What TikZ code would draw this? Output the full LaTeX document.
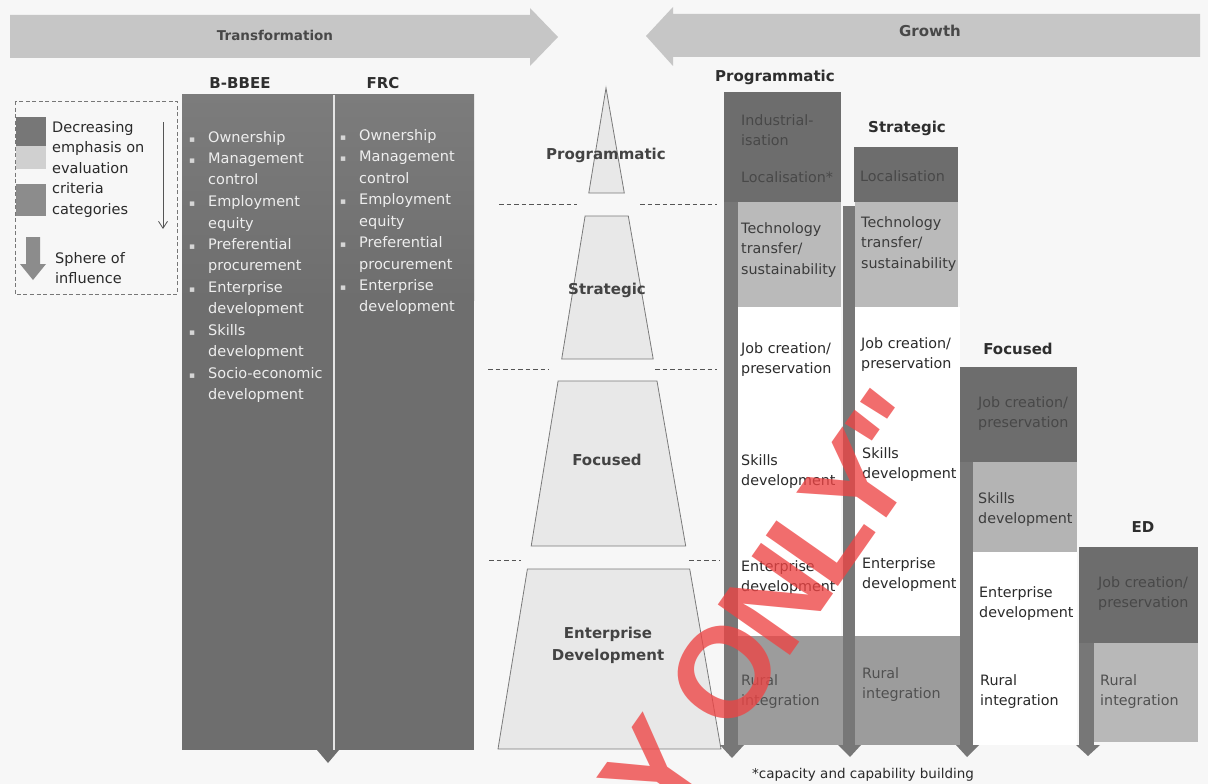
\documentclass[tikz,border=0pt]{standalone}
\usepackage{fontspec}
\setmainfont{DejaVu Sans}
\newfontfamily\wmfont[LetterSpace=-6]{Liberation Sans}
\usetikzlibrary{arrows.meta}
\definecolor{bg}{HTML}{F7F7F7}
\definecolor{bigdark}{HTML}{6E6E6E}
\definecolor{bigtop}{HTML}{7C7C7C}
\definecolor{listtxt}{HTML}{EEEEEE}
\definecolor{bulgray}{HTML}{D6D6D6}
\definecolor{coldark}{HTML}{6D6D6D}
\definecolor{shaft}{HTML}{777777}
\definecolor{lightbox}{HTML}{BABABA}
\definecolor{midbox}{HTML}{9C9C9C}
\definecolor{foclight}{HTML}{B4B4B4}
\definecolor{edlight}{HTML}{B8B8B8}
\definecolor{pyrfill}{HTML}{E8E8E8}
\definecolor{pyrdraw}{HTML}{7A7A7A}
\definecolor{toparrow}{HTML}{C6C6C6}
\definecolor{hdrtxt}{HTML}{2E2E2E}
\definecolor{darktxt}{HTML}{484848}
\definecolor{lighttxt}{HTML}{3C3C3C}
\definecolor{whitetxt}{HTML}{2A2A2A}
\definecolor{midtxt}{HTML}{505050}
\definecolor{legdark}{HTML}{777777}
\definecolor{leglight}{HTML}{D0D0D0}
\definecolor{legmid}{HTML}{8C8C8C}
\definecolor{dashgray}{HTML}{555555}
\definecolor{wmred}{HTML}{EE4444}
\newcommand{\mlines}[1]{\begin{tabular}[t]{@{}l@{}}#1\end{tabular}}
\newcommand{\bul}{\makebox[19pt][l]{\color{bulgray}\fontsize{9}{9}\selectfont ▪}}
\newcommand{\nob}{\hspace*{19pt}}
\tikzset{
  hdr/.style={font=\bfseries\fontsize{15}{18}\selectfont, text=hdrtxt, inner sep=0},
  pyrlbl/.style={font=\bfseries\fontsize{15}{22}\selectfont, text=hdrtxt!90!white, inner sep=0, align=center},
  lst/.style={anchor=base west, inner sep=0, font=\fontsize{14.5}{21.5}\selectfont, text=listtxt},
  leg/.style={anchor=base west, inner sep=0, font=\fontsize{14.5}{20.5}\selectfont, text=whitetxt},
  lbl/.style={anchor=base west, inner sep=0, font=\fontsize{14.3}{20.5}\selectfont},
  pyr/.style={fill=pyrfill, draw=pyrdraw, line width=0.8pt},
  sep/.style={draw=dashgray, line width=0.9pt, dash pattern=on 4.5pt off 3pt},
  wm/.style={font=\wmfont\bfseries\fontsize{128}{128}\selectfont, text=wmred, text opacity=0.78, inner sep=0},
}
\begin{document}
\begin{tikzpicture}[x=1pt,y=-1pt]
\useasboundingbox (0,0) rectangle (1208,784);
\fill[bg] (0,0) rectangle (1208,784);

% top arrows
\fill[toparrow] (10,15) -- (530,15) -- (530,8) -- (558,37) -- (530,66) -- (530,58) -- (10,58) -- cycle;
\fill[toparrow] (1200,14) -- (673,14) -- (673,7) -- (646,36) -- (673,66) -- (673,57) -- (1200,57) -- cycle;
\node[font=\bfseries\fontsize{13.5}{16}\selectfont, text=darktxt, inner sep=0] (ttrans) at (275,35) {Transformation};
\node[font=\bfseries\fontsize{15}{18}\selectfont, text=darktxt, inner sep=0] (tgrowth) at (930,31) {Growth};

% legend
\draw[dashgray!80!white, line width=0.8pt, dash pattern=on 4pt off 2.5pt] (15,101) rectangle (177,294);
\fill[legdark] (16,117) rectangle (46,146);
\fill[leglight] (16,146) rectangle (46,169);
\fill[legmid] (16,184) rectangle (46,216);
\node[leg] (legtext) at (52,132) {\mlines{Decreasing\\ emphasis on\\ evaluation\\ criteria\\ categories}};
\coordinate (la1) at (163,122);
\coordinate (la2) at (163,229);
\draw[dashgray, line width=0.8pt, -{Straight Barb[length=7pt,width=9pt]}] (la1) -- (la2);
\fill[legmid] (26,237) -- (40,237) -- (40,264) -- (46,264) -- (33,280) -- (20,264) -- (26,264) -- cycle;
\node[leg] (sphere) at (55,263) {\mlines{Sphere of\\ influence}};

% B-BBEE / FRC block
\fill[bigdark] (182,95) rectangle (474,750);
\shade[top color=bigtop, bottom color=bigdark] (182,95) rectangle (474,300);
\fill[bigdark] (317,750) -- (339,750) -- (328,763) -- cycle;
\draw[white!80!gray, line width=1.3pt] (334,95) -- (334,750);
\node[hdr] (hbb) at (240,83) {B-BBEE};
\node[hdr] (hfrc) at (383,83) {FRC};
\node[lst] (bblist) at (189,142) {\mlines{\bul Ownership\\ \bul Management\\ \nob control\\ \bul Employment\\ \nob equity\\ \bul Preferential\\ \nob procurement\\ \bul Enterprise\\ \nob development\\ \bul Skills\\ \nob development\\ \bul Socio-economic\\ \nob development}};
\node[lst] (frclist) at (340,140) {\mlines{\bul Ownership\\ \bul Management\\ \nob control\\ \bul Employment\\ \nob equity\\ \bul Preferential\\ \nob procurement\\ \bul Enterprise\\ \nob development}};

% pyramid
\draw[pyr] (606,88) -- (624.3,193) -- (588.8,193) -- cycle;
\draw[pyr] (585.1,216) -- (628.3,216) -- (653.2,359) -- (561.7,359) -- cycle;
\draw[pyr] (558.1,381) -- (657.0,381) -- (685.7,546) -- (531.2,546) -- cycle;
\draw[pyr] (527.4,569) -- (689.7,569) -- (721.0,749) -- (498.0,749) -- cycle;
\node[pyrlbl] (pprog) at (606,155) {Programmatic};
\node[pyrlbl] (pstrat) at (607,290) {Strategic};
\node[pyrlbl] (pfoc) at (607,460) {Focused};
\node[pyrlbl] (ped) at (608,645) {Enterprise\\Development};

% dashed separators
\draw[sep] (499,204) -- (577,204);
\draw[sep] (640,204) -- (717,204);
\draw[sep] (488,369) -- (549,369);
\draw[sep] (655,369) -- (717,369);
\draw[sep] (489,560) -- (521,560);
\draw[sep] (689,560) -- (720,560);

% Programmatic column
\fill[white] (738,307) rectangle (841,636);
\fill[shaft] (724,92) rectangle (738,745);
\fill[shaft] (720,745) -- (744,745) -- (732,758) -- cycle;
\fill[coldark] (724,92) rectangle (841,202);
\fill[lightbox] (738,202) rectangle (841,307);
\fill[midbox] (738,636) rectangle (843,745);
\node[hdr] (hprog) at (775,77) {Programmatic};
\node[lbl, text=darktxt] (p1) at (741,125) {\mlines{Industrial-\\isation}};
\node[lbl, text=darktxt] (p2) at (741,182) {Localisation*};
\node[lbl, text=lighttxt] (p3) at (741,233) {\mlines{Technology\\ transfer/\\ sustainability}};
\node[lbl, text=whitetxt] (p4) at (741,353) {\mlines{Job creation/\\ preservation}};
\node[lbl, text=whitetxt] (p5) at (741,465) {\mlines{Skills\\ development}};
\node[lbl, text=whitetxt] (p6) at (741,571) {\mlines{Enterprise\\ development}};
\node[lbl, text=midtxt] (p7) at (741,685) {\mlines{Rural\\ integration}};

% Strategic column
\fill[white] (855,307) rectangle (960,636);
\fill[shaft] (843,206) rectangle (855,745);
\fill[shaft] (838,745) -- (861,745) -- (850,757) -- cycle;
\fill[coldark] (854,147) rectangle (958,202);
\fill[lightbox] (855,202) rectangle (958,307);
\fill[midbox] (855,636) rectangle (960,745);
\node[hdr] (hstrat) at (907,128) {Strategic};
\node[lbl, text=darktxt] (s1) at (860,181) {Localisation};
\node[lbl, text=lighttxt] (s2) at (861,227) {\mlines{Technology\\ transfer/\\ sustainability}};
\node[lbl, text=whitetxt] (s3) at (861,348) {\mlines{Job creation/\\ preservation}};
\node[lbl, text=whitetxt] (s4) at (862,458) {\mlines{Skills\\ development}};
\node[lbl, text=whitetxt] (s5) at (862,568) {\mlines{Enterprise\\ development}};
\node[lbl, text=midtxt] (s6) at (862,678) {\mlines{Rural\\ integration}};

% Focused column
\fill[white] (973,552) rectangle (1077,745);
\fill[shaft] (960,367) rectangle (973,745);
\fill[shaft] (956,745) -- (979,745) -- (967,757) -- cycle;
\fill[coldark] (960,367) rectangle (1077,462);
\fill[foclight] (973,462) rectangle (1077,552);
\node[hdr] (hfoc) at (1018,349) {Focused};
\node[lbl, text=darktxt] (f1) at (978,407) {\mlines{Job creation/\\ preservation}};
\node[lbl, text=lighttxt] (f2) at (978,503) {\mlines{Skills\\ development}};
\node[lbl, text=whitetxt] (f3) at (979,597) {\mlines{Enterprise\\ development}};
\node[lbl, text=whitetxt] (f4) at (980,685) {\mlines{Rural\\ integration}};

% ED column
\fill[shaft] (1079,547) rectangle (1094,745);
\fill[shaft] (1076,745) -- (1100,745) -- (1088,756) -- cycle;
\fill[coldark] (1079,547) rectangle (1198,643);
\fill[edlight] (1094,643) rectangle (1198,742);
\node[hdr] (hed) at (1143,527) {ED};
\node[lbl, text=darktxt] (e1) at (1098,587) {\mlines{Job creation/\\ preservation}};
\node[lbl, text=midtxt] (e2) at (1100,685) {\mlines{Rural\\ integration}};

% footnote
\node[anchor=base west, inner sep=0, font=\fontsize{13.5}{16}\selectfont, text=whitetxt] (fn) at (752,778) {*capacity and capability building};

% watermark
\begin{scope}
\clip (0,0) rectangle (1208,784);
\node[wm, rotate=55] (wmark) at (771,606) {Y ONLY"};
\end{scope}
\end{tikzpicture}
\end{document}
